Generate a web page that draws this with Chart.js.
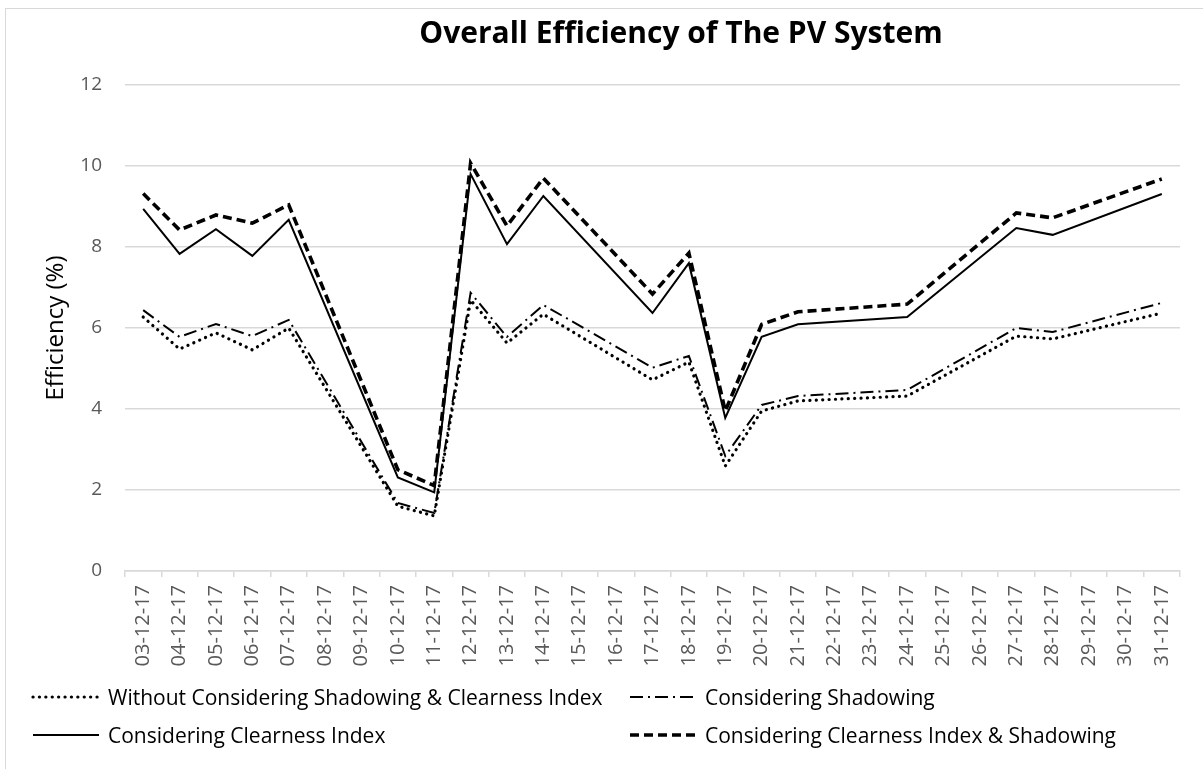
<!DOCTYPE html>
<html>
<head>
<meta charset="utf-8">
<script src="https://cdn.jsdelivr.net/npm/chart.js@4.4.1/dist/chart.umd.min.js"></script>
<style>
  html, body { margin:0; padding:0; background:#fff; }
  body { width:1203px; height:769px; position:relative; overflow:hidden; font-family:"Open Sans", sans-serif; }
  #frame { position:absolute; left:5px; top:8px; width:1210px; height:780px; border:1px solid #d9d9d9; box-sizing:border-box; }
  #wrap { position:absolute; left:0; top:0; width:1203px; height:769px; }
  #title { position:absolute; top:12px; left:681px; transform:translateX(-50%); white-space:nowrap; font-weight:700; font-size:30px; line-height:1.362; color:#000; }
  .leg { position:absolute; display:flex; align-items:center; white-space:nowrap; font-size:21px; color:#000; }
  .leg svg { margin-right:7px; }
</style>
</head>
<body>
<div id="frame"></div>
<div id="wrap"><canvas id="c" width="1203" height="769"></canvas></div>
<div id="title">Overall Efficiency of The PV System</div>
<div id="legend"></div>
<script>
const dates = ['03-12-17','04-12-17','05-12-17','06-12-17','07-12-17','08-12-17','09-12-17','10-12-17','11-12-17','12-12-17','13-12-17','14-12-17','15-12-17','16-12-17','17-12-17','18-12-17','19-12-17','20-12-17','21-12-17','22-12-17','23-12-17','24-12-17','25-12-17','26-12-17','27-12-17','28-12-17','29-12-17','30-12-17','31-12-17'];
const withoutShadowClear = [6.27,5.48,5.88,5.46,6.00,null,null,1.60,1.36,6.69,5.63,6.34,null,null,4.72,5.16,2.59,3.95,4.20,null,null,4.32,null,null,5.80,5.73,null,null,6.37];
const withShadow = [6.44,5.78,6.10,5.80,6.20,null,null,1.68,1.43,6.87,5.78,6.57,null,null,5.02,5.31,2.84,4.10,4.32,null,null,4.47,null,null,6.00,5.90,null,null,6.62];
const withClearness = [8.94,7.83,8.44,7.78,8.67,null,null,2.31,1.94,9.80,8.07,9.26,null,null,6.37,7.60,3.78,5.78,6.09,null,null,6.27,null,null,8.47,8.30,null,null,9.31];
const withClearShadow = [9.32,8.42,8.79,8.59,9.04,null,null,2.50,2.11,10.07,8.52,9.70,null,null,6.84,7.85,3.95,6.09,6.40,null,null,6.59,null,null,8.84,8.72,null,null,9.68];
const yTicks = [0,2,4,6,8,10,12];
const seriesNames = ['Without Considering Shadowing & Clearness Index','Considering Shadowing','Considering Clearness Index','Considering Clearness Index & Shadowing'];

const styles = [
  {borderWidth:3.2, borderDash:[0.1,6.3], borderCapStyle:'round'},
  {borderWidth:2, borderDash:[13,5,2,5], borderCapStyle:'butt'},
  {borderWidth:2, borderDash:[], borderCapStyle:'butt'},
  {borderWidth:3.6, borderDash:[9,5], borderCapStyle:'butt'}
];
const seriesData = [withoutShadowClear, withShadow, withClearness, withClearShadow];

const datasets = seriesData.map((d,i)=>Object.assign({
  label: seriesNames[i], data: d, borderColor:'#000', backgroundColor:'#000',
  pointRadius:0, spanGaps:true, tension:0, fill:false, borderJoinStyle:'miter'
}, styles[i]));

new Chart(document.getElementById('c'), {
  type:'line',
  data:{ labels: dates, datasets },
  options:{
    responsive:false, animation:false, devicePixelRatio:1,
    layout:{ padding:{ top:85, right:23, bottom:98, left:0 } },
    plugins:{ legend:{display:false}, title:{display:false}, tooltip:{enabled:false} },
    scales:{
      x:{
        offset:true,
        grid:{ display:true, drawOnChartArea:false, drawTicks:true, tickLength:6, offset:true, color:'#d9d9d9', lineWidth:1.5 },
        border:{ display:true, color:'#d9d9d9', width:1.5 },
        ticks:{ minRotation:90, maxRotation:90, autoSkip:false, padding:8, color:'#595959', font:{family:'"Open Sans"', size:20} },
        afterFit:(s)=>{ s.height = 100; }
      },
      y:{
        min:0, max:12,
        afterBuildTicks:(s)=>{ s.ticks = yTicks.map(v=>({value:v})); },
        grid:{ color:'#d9d9d9', lineWidth:1.5, drawTicks:false },
        border:{ display:false },
        ticks:{ padding:23, color:'#595959', font:{family:'"Open Sans"', size:19} },
        title:{ display:true, text:'Efficiency (%)', color:'#000', font:{family:'"Open Sans"', size:24}, padding:{top:42, bottom:0} },
        afterFit:(s)=>{ s.width = 125; }
      }
    }
  }
});

// HTML legend
const legendPos = [
  {x:31, y:697, sw:70},
  {x:628, y:697, sw:70},
  {x:31, y:735, sw:70},
  {x:628, y:735, sw:70}
];
const lg = document.getElementById('legend');
seriesNames.forEach((n,i)=>{
  const p = legendPos[i], st = styles[i];
  const div = document.createElement('div');
  div.className = 'leg';
  div.style.left = p.x + 'px';
  div.style.top = (p.y - 15) + 'px';
  div.style.height = '30px';
  const dash = st.borderDash.length ? st.borderDash.join(',') : 'none';
  div.innerHTML = `<svg width="${p.sw}" height="10"><line x1="2" y1="5" x2="${p.sw-2}" y2="5" stroke="#000" stroke-width="${st.borderWidth}" stroke-dasharray="${dash}" stroke-linecap="${st.borderCapStyle}"/></svg><span>${n}</span>`;
  lg.appendChild(div);
});
</script>
</body>
</html>
